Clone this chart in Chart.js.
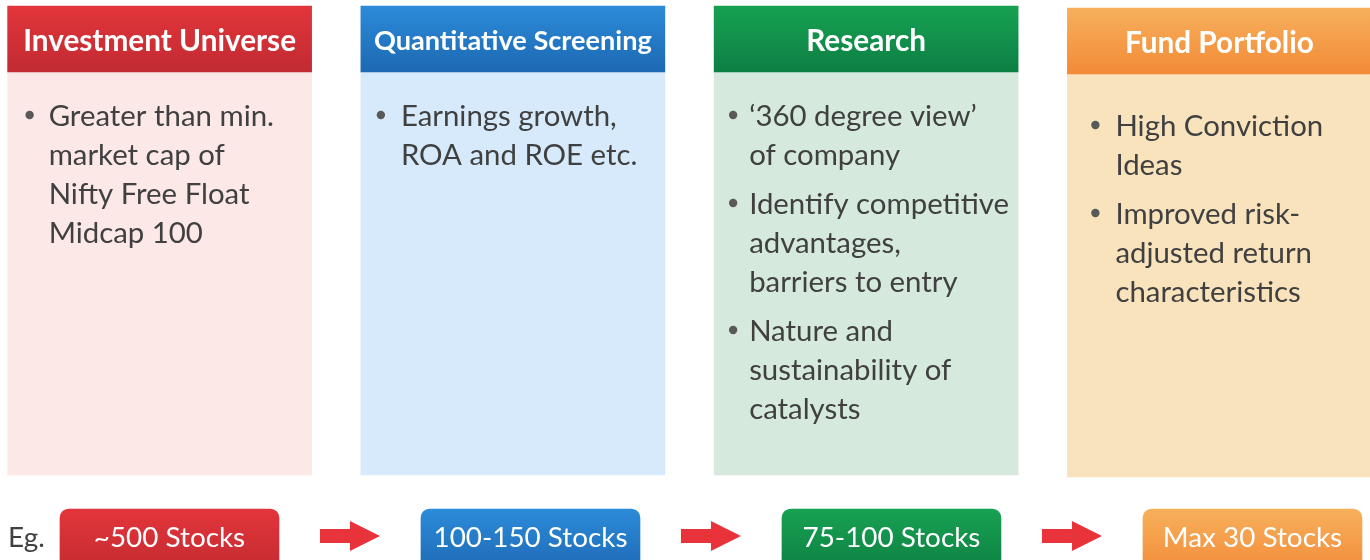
<!DOCTYPE html>
<html>
<head>
<meta charset="utf-8">
<script src="https://cdn.jsdelivr.net/npm/chart.js@4.4.0/dist/chart.umd.min.js"></script>
<style>
html, body { margin: 0; padding: 0; background: #fff; overflow: hidden; }
#wrap { position: absolute; left: -17px; top: 0; width: 1413px; height: 560px; }
</style>
</head>
<body>
<div id="wrap"><canvas id="chart"></canvas></div>
<script>
// stages of the process
var stages = ['Investment Universe', 'Quantitative Screening', 'Research', 'Fund Portfolio'];
// vertical extent of each box (y axis runs 0 at top to 560 at bottom)
var headerBand = [[6, 72], [6, 72], [6, 72], [8, 74]];
var bodyBand = [[72, 475], [72, 475], [72, 475], [74, 477]];
var stockBand = [[509, 585], [509, 585], [509, 585], [509, 585]];
var stockLabels = ['~500 Stocks', '100-150 Stocks', '75-100 Stocks', 'Max 30 Stocks'];
var bullets = [
    [['Greater than min.', 'market cap of', 'Nifty Free Float', 'Midcap 100']],
    [['Earnings growth,', 'ROA and ROE etc.']],
    [['\u2018360 degree view\u2019', 'of company'], ['Identify competitive', 'advantages,', 'barriers to entry'], ['Nature and', 'sustainability of', 'catalysts']],
    [['High Conviction', 'Ideas'], ['Improved risk-', 'adjusted return', 'characteristics']]
];
var prefix = 'Eg.';

// styles
var FONT = 'Lato, "Open Sans", sans-serif';
var headTop = ['#e2353b', '#2c8bd9', '#17a152', '#f7b05c'];
var headBottom = ['#c12b31', '#1d68b2', '#0d7f43', '#f28a37'];
var bodyFill = ['#fde8e8', '#d6eafb', '#d5eadd', '#f9e3bd'];
var bulletIndent = [22, 20, 19, 28];
var textIndent = [41, 40, 35, 48];
var firstBaseline = [54, 54, 54, 62]; // below header bottom
var lineGap = 39, paraGap = 10;

function vgrad(band, top, bottom) {
    return function (ctx) {
        var chart = ctx.chart;
        var i = ctx.dataIndex;
        if (!chart.chartArea || i === undefined) return top[0];
        var y = chart.scales.y;
        var g = chart.ctx.createLinearGradient(0, y.getPixelForValue(band[i][0]), 0, y.getPixelForValue(band[i][0] + 66));
        g.addColorStop(0, top[i]);
        g.addColorStop(1, bottom[i]);
        return g;
    };
}

function fitSize(c, text, weight, target) {
    c.font = weight + ' 100px ' + FONT;
    return 100 * target / c.measureText(text).width;
}

var textPlugin = {
    id: 'flowText',
    afterDatasetsDraw: function (chart) {
        var c = chart.ctx;
        var y = chart.scales.y;
        var heads = chart.getDatasetMeta(0).data;
        var pills = chart.getDatasetMeta(2).data;
        c.save();

        // headers
        var hSize = fitSize(c, stages[0], 'bold', 273);
        heads.forEach(function (el, i) {
            var p = el.getProps(['x', 'width'], true);
            var s = hSize;
            c.font = 'bold ' + s + 'px ' + FONT;
            var w = c.measureText(stages[i]).width;
            if (w > p.width - 26) { s = s * (p.width - 26) / w; c.font = 'bold ' + s + 'px ' + FONT; }
            var cap = c.measureText('H').actualBoundingBoxAscent;
            var mid = (y.getPixelForValue(headerBand[i][0]) + y.getPixelForValue(headerBand[i][1])) / 2;
            c.fillStyle = '#ffffff';
            c.textAlign = 'center';
            c.textBaseline = 'alphabetic';
            c.fillText(stages[i], p.x, mid + cap / 2 + 1);
        });

        // bullet text
        var bSize = fitSize(c, 'Identify competitive', 'normal', 260);
        c.font = bSize + 'px ' + FONT;
        c.textAlign = 'left';
        heads.forEach(function (el, i) {
            var p = el.getProps(['x', 'width'], true);
            var left = p.x - p.width / 2;
            var base = y.getPixelForValue(headerBand[i][1]) + firstBaseline[i];
            bullets[i].forEach(function (para) {
                c.fillStyle = '#595959';
                c.beginPath();
                c.arc(left + bulletIndent[i], base - 11, 4.2, 0, Math.PI * 2);
                c.fill();
                c.fillStyle = '#404040';
                para.forEach(function (line) {
                    c.fillText(line, left + textIndent[i], base);
                    base += lineGap;
                });
                base += paraGap;
            });
        });

        // stock counts, arrows
        var pSize = fitSize(c, stockLabels[1], 'normal', 194);
        c.font = pSize + 'px ' + FONT;
        var pBase = y.getPixelForValue(stockBand[0][0]) + 38;
        pills.forEach(function (el, i) {
            var p = el.getProps(['x', 'width'], true);
            c.fillStyle = '#ffffff';
            c.textAlign = 'center';
            c.fillText(stockLabels[i], p.x, pBase);
            if (i > 0) {
                var q = pills[i - 1].getProps(['x', 'width'], true);
                var cx = ((q.x + q.width / 2) + (p.x - p.width / 2)) / 2;
                var cy = pBase - 11;
                c.fillStyle = '#e8333a';
                c.beginPath();
                c.moveTo(cx - 30, cy - 7);
                c.lineTo(cx, cy - 7);
                c.lineTo(cx, cy - 15);
                c.lineTo(cx + 30, cy);
                c.lineTo(cx, cy + 15);
                c.lineTo(cx, cy + 7);
                c.lineTo(cx - 30, cy + 7);
                c.closePath();
                c.fill();
            }
        });
        var first = pills[0].getProps(['x', 'width'], true);
        c.fillStyle = '#404040';
        c.textAlign = 'left';
        c.fillText(prefix, first.x - first.width / 2 - 52, pBase);
        c.restore();
    }
};

new Chart(document.getElementById('chart'), {
    type: 'bar',
    data: {
        labels: stages,
        datasets: [
            {
                data: headerBand,
                backgroundColor: vgrad(headerBand, headTop, headBottom),
                barThickness: 304,
                grouped: false
            },
            {
                data: bodyBand,
                backgroundColor: bodyFill,
                barThickness: 304,
                grouped: false
            },
            {
                xAxisID: 'xp',
                data: stockBand.map(function (b, i) { return { x: i, y: b }; }),
                backgroundColor: vgrad(stockBand, headTop, headBottom),
                barThickness: 219,
                borderRadius: 9,
                borderSkipped: false,
                grouped: false
            }
        ]
    },
    options: {
        responsive: true,
        maintainAspectRatio: false,
        animation: false,
        layout: { padding: 0 },
        plugins: { legend: { display: false }, tooltip: { enabled: false } },
        scales: {
            x: { display: false, offset: true },
            xp: { type: 'linear', display: false, offset: false, min: -0.5166, max: 3.3976, grid: { offset: false } },
            y: { display: false, min: 0, max: 560, reverse: true }
        }
    },
    plugins: [textPlugin]
});
</script>
</body>
</html>
